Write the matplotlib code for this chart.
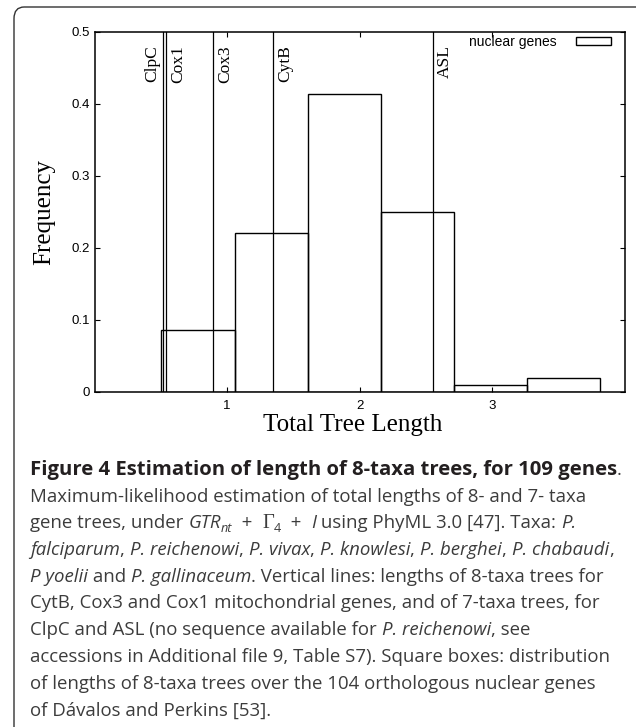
import numpy as np
import matplotlib
matplotlib.use("Agg")
import matplotlib.pyplot as plt
import matplotlib.transforms as mtransforms
from matplotlib.patches import FancyBboxPatch

W, H = 636, 727

# histogram of 8-taxa tree lengths, 104 nuclear genes
bin_left = [0.505, 1.056, 1.607, 2.158, 2.709, 3.260]
bin_width = 0.551
gene_counts = [9, 23, 43, 26, 1, 2]
n_genes = 104
freq = [c / n_genes for c in gene_counts]

# organelle genes (vertical lines)
line_genes = ["ClpC", "Cox1", "Cox3", "CytB", "ASL"]
line_lengths = [0.513, 0.538, 0.895, 1.345, 2.549]
label_side = ["left", "right", "right", "right", "right"]

x_ticks = [1, 2, 3]
y_ticks = [0, 0.1, 0.2, 0.3, 0.4, 0.5]
y_tick_labels = ["0", "0.1", "0.2", "0.3", "0.4", "0.5"]

fig = plt.figure(figsize=(W / 100, H / 100), dpi=100)

# rounded panel border (right and bottom edges fall outside the image)
panel = FancyBboxPatch((14 / W, 1 - 760 / H), 700 / W, 753 / H,
                       boxstyle="round,pad=0,rounding_size=0.016",
                       transform=fig.transFigure, fill=False,
                       edgecolor="#333333", linewidth=1.0, clip_on=False)
fig.patches.append(panel)

ax = fig.add_axes([94.5 / W, 1 - 392 / H, (625 - 94.5) / W, (392 - 32) / H])
ax.bar(bin_left, freq, width=bin_width, align="edge", fill=False,
       edgecolor="black", linewidth=1.0, label="nuclear genes")

for g, x, side in zip(line_genes, line_lengths, label_side):
    ax.axvline(x, color="black", linewidth=0.9)
    if side == "left":
        tr = mtransforms.offset_copy(ax.transData, fig=fig, x=-1.5, y=0, units="points")
        va = "bottom"
    else:
        tr = mtransforms.offset_copy(ax.transData, fig=fig, x=3, y=0, units="points")
        va = "top"
    ax.text(x, 0.482, g, transform=tr, rotation=90, rotation_mode="anchor",
            ha="right", va=va, fontsize=12.5, family="Liberation Serif")

ax.set_xlim(0, 4)
ax.set_ylim(0, 0.5)
ax.set_xticks(x_ticks)
ax.set_yticks(y_ticks)
ax.set_yticklabels(y_tick_labels)
ax.tick_params(direction="in", length=3.5, width=0.8, top=True, right=True,
               labelsize=9.5)
ax.tick_params(axis="x", pad=5.5)
ax.tick_params(axis="y", pad=3.5)
for lbl in ax.get_xticklabels() + ax.get_yticklabels():
    lbl.set_family("Liberation Sans")
for s in ax.spines.values():
    s.set_linewidth(1.1)

ax.set_xlabel("Total Tree Length", fontsize=18, family="Liberation Serif")
ax.set_ylabel("Frequency", fontsize=18, family="Liberation Serif")
ax.xaxis.set_label_coords((353 - 94.5) / 530.5, -33 / 360)
ax.xaxis.label.set_va("center")
ax.yaxis.set_label_coords((44 - 94.5) / 530.5, 0.5)
ax.yaxis.label.set_va("center")

leg = ax.legend(loc="upper right", bbox_to_anchor=(1 - 14 / 530.5, 1 - 3 / 360),
                frameon=False, markerfirst=False, borderpad=0,
                borderaxespad=0, handlelength=2.5, handleheight=0.45,
                handletextpad=1.4, prop={"family": "Liberation Sans", "size": 10})

# caption, drawn segment by segment
fig.canvas.draw()
renderer = fig.canvas.get_renderer()

cap_font = "Open Sans"
cap_size = 13.4
cap_color = "#3c3c3c"


def seg_width(txt, **kw):
    t1 = fig.text(0, 0, "|" + txt + "|", **kw)
    t2 = fig.text(0, 0, "||", **kw)
    w = t1.get_window_extent(renderer).width - t2.get_window_extent(renderer).width
    t1.remove()
    t2.remove()
    return w


def draw_caption_line(segs, x0, yb):
    x = x0
    for txt, style in segs:
        kw = dict(fontsize=cap_size, family=cap_font, color=cap_color)
        y = yb
        if "b" in style:
            kw["weight"] = "bold"
            kw["color"] = "#231f20"
            kw["fontsize"] = cap_size * 1.09
        if "i" in style:
            kw["style"] = "italic"
        if "s" in style:
            kw["fontsize"] = cap_size * 0.68
            y = yb + 4
        if "g" in style:
            kw["family"] = "Liberation Serif"
            kw["fontsize"] = cap_size * 1.1
        fig.text(x / W, 1 - y / H, txt, va="baseline", ha="left", **kw)
        x += seg_width(txt, **kw)


caption = [
    [("Figure 4 Estimation of length of 8-taxa trees, for 109 genes", "b"), (".", "")],
    [("Maximum-likelihood estimation of total lengths of 8- and 7- taxa", "")],
    [("gene trees, under ", ""), ("GTR", "i"), ("nt", "is"), ("  +  ", ""), ("\u0393", "g"),
     ("4", "s"), ("  +  ", ""), ("I", "i"), (" using PhyML 3.0 [47]. Taxa: ", ""), ("P.", "i")],
    [("falciparum", "i"), (", ", ""), ("P. reichenowi", "i"), (", ", ""), ("P. vivax", "i"),
     (", ", ""), ("P. knowlesi", "i"), (", ", ""), ("P. berghei", "i"), (", ", ""),
     ("P. chabaudi", "i"), (",", "")],
    [("P yoelii", "i"), (" and ", ""), ("P. gallinaceum", "i"),
     (". Vertical lines: lengths of 8-taxa trees for", "")],
    [("CytB, Cox3 and Cox1 mitochondrial genes, and of 7-taxa trees, for", "")],
    [("ClpC and ASL (no sequence available for ", ""), ("P. reichenowi", "i"), (", see", "")],
    [("accessions in Additional file 9, Table S7). Square boxes: distribution", "")],
    [("of lengths of 8-taxa trees over the 104 orthologous nuclear genes", "")],
    [("of D\u00e1valos and Perkins [53].", "")],
]

for i, segs in enumerate(caption):
    draw_caption_line(segs, 30, 475 + 26.7 * i)

fig.savefig("out.png", dpi=100)
